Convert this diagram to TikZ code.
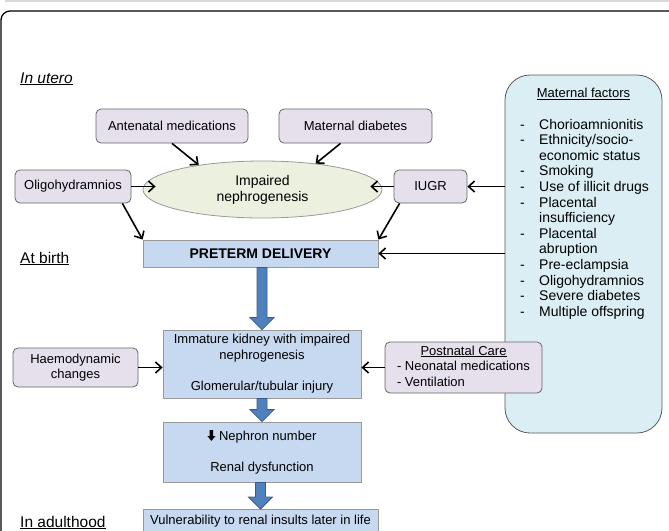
\documentclass[tikz,border=0pt]{standalone}
\usepackage{fontspec}
\setmainfont{Liberation Sans}
\usetikzlibrary{shapes.geometric,arrows.meta,calc}

\definecolor{lilac}{HTML}{E5E0EC}
\definecolor{sage}{HTML}{EBF1DE}
\definecolor{paleblue}{HTML}{C6D9F1}
\definecolor{skyfill}{HTML}{DAEEF3}
\definecolor{arrowblue}{HTML}{4F81BD}
\definecolor{arrowedge}{HTML}{385D8A}

\tikzset{
  factor/.style={draw=black!60, fill=lilac, rounded corners=5pt, line width=0.8pt, inner sep=2pt, align=center},
  stage/.style={draw=black!40, fill=paleblue, line width=0.8pt, inner sep=2pt, align=center},
  phase/.style={anchor=base west, inner sep=0pt, font=\fontsize{15.5}{18}\selectfont},
  link/.style={-{Straight Barb[length=6pt,width=11pt]}, line width=1.6pt},
  bigarrow/.style={fill=arrowblue, draw=arrowedge, line width=0.8pt, line join=miter}
}

% thick down arrow used in front of "Nephron number"
\newcommand{\nephdown}{\tikz[x=1pt,y=1pt,baseline=0pt]\fill (-1.7,10) -- (1.7,10) -- (1.7,4) -- (4,4) -- (0,-0.8) -- (-4,4) -- (-1.7,4) -- cycle;}

% block arrow from the bottom of #1 to the top of #2
\newcommand{\blockdown}[2]{%
  \draw[bigarrow] ($(#1.south -| #2.north)+(-5,0)$) -- ($(#2.north)+(-5,-12)$) -- ($(#2.north)+(-12,-12)$)
    -- (#2.north) -- ($(#2.north)+(12,-12)$) -- ($(#2.north)+(5,-12)$) -- ($(#1.south -| #2.north)+(5,0)$) -- cycle;}

\begin{document}
\begin{tikzpicture}[x=1pt,y=-1pt,font=\fontsize{13}{15.6}\selectfont]
\useasboundingbox (0,0) rectangle (669,530);

% page frame
\draw[black!15, line width=1.5pt] (5,1) -- (669,1);
\draw[line width=1.3pt, rounded corners=9pt] (1,580) |- (720,11);

% stage labels
\node[phase] (inutero) at (20,83) {\underline{\itshape In utero}};
\node[phase] (atbirth) at (20,263) {\underline{At birth}};
\node[phase] (adult) at (20,527) {\underline{In adulthood}};

% in utero
\node[factor, minimum width=152pt, minimum height=34pt] (antemed) at (172,126) {Antenatal medications};
\node[factor, minimum width=153pt, minimum height=34pt] (matdiab) at (355.5,126) {Maternal diabetes};
\node[factor, minimum width=116pt, minimum height=33pt] (oligo) at (73,186.5) {Oligohydramnios};
\node[factor, minimum width=73pt, minimum height=33pt] (iugr) at (430.5,186.5) {IUGR};
\node[ellipse, draw=black!40, fill=sage, line width=0.8pt, minimum width=239pt, minimum height=57pt, inner sep=0pt, align=center, font=\fontsize{14}{16.2}\selectfont] (impaired) at (262.5,189.5) {Impaired\\nephrogenesis};

% maternal factors
\node[draw=black!65, fill=skyfill, rounded corners=25pt, line width=0.8pt, minimum width=157pt, minimum height=358pt] (matfac) at (583.5,254) {};
\node (matttl) at (583.5,94) {\underline{Maternal factors}};
\node[anchor=north west, inner sep=0pt, font=\fontsize{14}{15.6}\selectfont] (matlist) at (520,118) {%
\begin{tabular}{@{}p{19pt}@{}l@{}}
- & Chorioamnionitis\\
- & Ethnicity/socio-\\
  & economic status\\
- & Smoking\\
- & Use of illicit drugs\\
- & Placental\\
  & insufficiency\\
- & Placental\\
  & abruption\\
- & Pre-eclampsia\\
- & Oligohydramnios\\
- & Severe diabetes\\
- & Multiple offspring
\end{tabular}};

% at birth and after
\node[stage, minimum width=235pt, minimum height=27pt, font=\fontsize{14}{16}\selectfont\bfseries] (preterm) at (260.5,253.5) {PRETERM DELIVERY};
\node[stage, minimum width=198pt, minimum height=68pt] (immature) at (262,364) {Immature kidney with impaired\\nephrogenesis\\[15.6pt]Glomerular/tubular injury};
\node[factor, minimum width=125pt, minimum height=39pt] (haemo) at (75.5,367.5) {Haemodynamic\\changes};
\node[factor, minimum width=157pt, minimum height=51pt] (postnatal) at (463.5,367.5) {%
\begin{tabular}{@{}l@{}}
\multicolumn{1}{@{}c@{}}{\underline{Postnatal Care}}\\
- Neonatal medications\\
- Ventilation
\end{tabular}};
\node[stage, minimum width=198pt, minimum height=60pt] (nephron) at (262,452) {\nephdown\ Nephron number\\[15.6pt]Renal dysfunction};
\node[stage, anchor=north, minimum width=235pt, text height=9.5pt, text depth=25pt, inner ysep=6pt] (vulner) at (260.5,509) {Vulnerability to renal insults later in life};

% connectors
\draw[link] (antemed.south) -- (impaired.159);
\draw[link] ([xshift=-15pt]matdiab.south) -- (impaired.26);
\draw[link] (oligo.east) -- ($(oligo.east -| impaired.west)+(13,0)$);
\draw[link] (iugr.west) -- ($(iugr.west -| impaired.east)+(-12,0)$);
\draw[link] ([xshift=-9pt]oligo.south east) -- (preterm.north west);
\draw[link] ([xshift=6pt]iugr.south west) -- (preterm.north east);
\draw[link] (matfac.west |- iugr.east) -- (iugr.east);
\draw[link] (matfac.west |- preterm.east) -- (preterm.east);
\draw[link] (haemo.east) -- (haemo.east -| immature.west);
\draw[link] (postnatal.west) -- (postnatal.west -| immature.east);

\blockdown{preterm}{immature}
\blockdown{immature}{nephron}
\blockdown{nephron}{vulner}

\end{tikzpicture}
\end{document}
